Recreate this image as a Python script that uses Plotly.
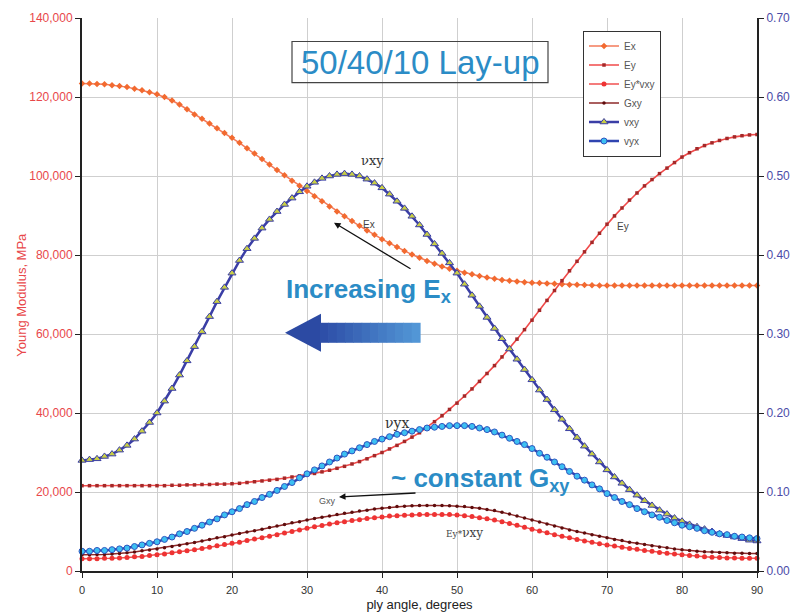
import plotly.graph_objects as go

# ---------------- data ----------------
angle = list(range(0, 91))

Ex = [123400, 123400, 123300, 123200, 123000, 122800, 122500, 122100, 121700, 121200,
      120700, 120000, 119100, 118100, 116900, 115600, 114500, 113300, 112100, 110900,
      109700, 108400, 107000, 105700, 104300, 102900, 101500, 100200, 98800, 97500,
      96200, 94900, 93600, 92300, 91000, 89800, 88600, 87400, 86200, 85100,
      84000, 83000, 82000, 81000, 80100, 79300, 78500, 77800, 77100, 76500,
      76000, 75500, 75100, 74700, 74300, 74000, 73700, 73500, 73300, 73100,
      73000, 72900, 72800, 72700, 72600, 72500, 72450, 72400, 72350, 72300,
      72300, 72300, 72300, 72300, 72300, 72250, 72250, 72250, 72250, 72250,
      72250, 72250, 72250, 72250, 72250, 72250, 72250, 72250, 72250, 72250,
      72250]

Ey = [21600, 21600, 21600, 21600, 21600, 21600, 21600, 21600, 21600, 21600,
      21600, 21600, 21700, 21700, 21800, 21800, 21900, 21900, 22000, 22000,
      22100, 22200, 22400, 22600, 22800, 23000, 23200, 23500, 23800, 24100,
      24400, 24700, 25100, 25500, 26000, 26500, 27100, 27700, 28400, 29200,
      30000, 30900, 31800, 32800, 33900, 35000, 36400, 37800, 39300, 40900,
      42500, 44300, 46100, 48000, 50000, 52000, 54200, 56400, 58700, 61100,
      63500, 66000, 68500, 71000, 73500, 76000, 78400, 80800, 83200, 85500,
      87800, 89900, 91900, 93900, 95700, 97500, 99100, 100600, 102000, 103400,
      104800, 105900, 106900, 107700, 108400, 109000, 109500, 109900, 110200, 110400,
      110500]

Ey_vxy = [3100, 3100, 3100, 3200, 3200, 3300, 3400, 3600, 3700, 3900,
          4100, 4300, 4600, 4900, 5100, 5400, 5700, 6000, 6400, 6700,
          7000, 7300, 7700, 8100, 8400, 8800, 9200, 9600, 10000, 10400,
          10800, 11200, 11500, 11900, 12200, 12500, 12800, 13000, 13300, 13500,
          13700, 13900, 14000, 14100, 14200, 14300, 14300, 14300, 14300, 14300,
          14200, 14000, 13800, 13500, 13200, 12900, 12500, 12000, 11600, 11100,
          10600, 10100, 9700, 9200, 8800, 8400, 8000, 7600, 7300, 6900,
          6600, 6300, 6000, 5700, 5500, 5200, 5000, 4700, 4500, 4300,
          4100, 3900, 3800, 3600, 3500, 3400, 3300, 3300, 3200, 3200,
          3200]

Gxy = [4100, 4100, 4200, 4200, 4300, 4400, 4600, 4800, 5100, 5300,
       5600, 5900, 6200, 6500, 6900, 7200, 7600, 8000, 8400, 8700,
       9100, 9500, 9900, 10200, 10600, 11000, 11400, 11800, 12200, 12500,
       12900, 13300, 13600, 13900, 14300, 14600, 14900, 15200, 15400, 15700,
       15900, 16100, 16300, 16400, 16500, 16600, 16600, 16600, 16600, 16500,
       16400, 16300, 16100, 15900, 15600, 15300, 14900, 14400, 13900, 13400,
       12900, 12400, 11900, 11400, 10900, 10400, 10000, 9600, 9200, 8800,
       8400, 8000, 7700, 7300, 7000, 6700, 6400, 6100, 5900, 5600,
       5400, 5200, 5000, 4900, 4800, 4700, 4600, 4500, 4500, 4400,
       4400]

vxy = [0.140, 0.141, 0.142, 0.145, 0.148, 0.153, 0.159, 0.167, 0.177, 0.188,
       0.200, 0.215, 0.231, 0.248, 0.266, 0.284, 0.303, 0.322, 0.341, 0.359,
       0.377, 0.393, 0.408, 0.421, 0.434, 0.445, 0.455, 0.464, 0.472, 0.480,
       0.487, 0.492, 0.497, 0.500, 0.502, 0.503, 0.502, 0.500, 0.496, 0.491,
       0.485, 0.477, 0.468, 0.459, 0.449, 0.438, 0.426, 0.414, 0.402, 0.390,
       0.377, 0.363, 0.349, 0.335, 0.321, 0.307, 0.294, 0.281, 0.268, 0.255,
       0.242, 0.229, 0.217, 0.204, 0.192, 0.180, 0.169, 0.158, 0.148, 0.138,
       0.128, 0.119, 0.111, 0.103, 0.096, 0.089, 0.083, 0.077, 0.072, 0.067,
       0.063, 0.059, 0.056, 0.053, 0.050, 0.047, 0.045, 0.043, 0.041, 0.039,
       0.038]

vyx = [0.025, 0.025, 0.026, 0.026, 0.027, 0.028, 0.029, 0.031, 0.033, 0.035,
       0.037, 0.040, 0.043, 0.047, 0.050, 0.054, 0.058, 0.062, 0.066, 0.071,
       0.075, 0.079, 0.084, 0.088, 0.093, 0.097, 0.102, 0.107, 0.112, 0.118,
       0.123, 0.128, 0.133, 0.138, 0.143, 0.148, 0.152, 0.156, 0.160, 0.164,
       0.167, 0.170, 0.173, 0.175, 0.177, 0.179, 0.181, 0.182, 0.183, 0.184,
       0.184, 0.184, 0.183, 0.181, 0.179, 0.176, 0.172, 0.168, 0.164, 0.160,
       0.155, 0.149, 0.144, 0.138, 0.132, 0.126, 0.120, 0.115, 0.109, 0.104,
       0.098, 0.093, 0.088, 0.084, 0.079, 0.075, 0.071, 0.068, 0.064, 0.061,
       0.058, 0.056, 0.054, 0.051, 0.049, 0.047, 0.046, 0.044, 0.043, 0.042,
       0.041]

left_ticks = [0, 20000, 40000, 60000, 80000, 100000, 120000, 140000]
right_ticks = [0.0, 0.1, 0.2, 0.3, 0.4, 0.5, 0.6, 0.7]
x_ticks = [0, 10, 20, 30, 40, 50, 60, 70, 80, 90]

# ---------------- layout helpers ----------------
# the page body has an 8px margin, so the figure is drawn 8px in from the corner
OFF = 8
W, H = 801 - OFF, 612 - OFF
PX0, PX1, PY0, PY1 = 82, 757, 18.5, 571          # plot area in page pixels
L, T = PX0 - OFF, int(PY0 - OFF)
R, B = W - (PX1 - OFF), H - (PY1 - OFF)
PW, PH = PX1 - PX0, PY1 - PY0


def px(x):
    return (x - PX0) / PW


def py(y):
    return (PY1 - y) / PH


FONT = "Liberation Sans, Arial, sans-serif"
RED = "#e8474a"
BLUE_AX = "#4b4ba8"
TXT_BLUE = "#2b8cc6"

fig = go.Figure()

fig.add_trace(go.Scatter(
    x=angle, y=Ex, name="Ex", mode="lines+markers", cliponaxis=False,
    line=dict(color="#f37a5a", width=1.5),
    marker=dict(symbol="diamond", size=5, color="#f26a30")))
fig.add_trace(go.Scatter(
    x=angle, y=Ey, name="Ey", mode="lines+markers", cliponaxis=False,
    line=dict(color="#f04a4a", width=1.6),
    marker=dict(symbol="square", size=3.5, color="#a52828")))
fig.add_trace(go.Scatter(
    x=angle, y=Ey_vxy, name="Ey*vxy", mode="lines+markers", cliponaxis=False,
    line=dict(color="#f05050", width=1.5),
    marker=dict(symbol="circle", size=5, color="#ee3333")))
fig.add_trace(go.Scatter(
    x=angle, y=Gxy, name="Gxy", mode="lines+markers", cliponaxis=False,
    line=dict(color="#8e2a2a", width=1.5),
    marker=dict(symbol="circle", size=3.5, color="#5e0c0c")))
fig.add_trace(go.Scatter(
    x=angle, y=vxy, name="vxy", mode="lines+markers", yaxis="y2", cliponaxis=False,
    line=dict(color="#3a3ea6", width=2.5),
    marker=dict(symbol="triangle-up", size=7, color="#c9cf45",
                line=dict(color="#3a3ea6", width=1))))
fig.add_trace(go.Scatter(
    x=angle, y=vyx, name="vyx", mode="lines+markers", yaxis="y2", cliponaxis=False,
    line=dict(color="#2f44b0", width=2.5),
    marker=dict(symbol="circle", size=6, color="#3cc0f2",
                line=dict(color="#2f55c0", width=1))))

shapes = []
# title box (transparent, gridlines show through)
shapes.append(dict(type="rect", xref="paper", yref="paper",
                   x0=px(292), x1=px(548), y0=py(83), y1=py(42),
                   line=dict(color="#444444", width=1.2), fillcolor="rgba(0,0,0,0)"))
# big arrow pointing left (head + gradient body)
head = "M {},{} L {},{} L {},{} Z".format(px(285), py(333), px(321), py(314), px(321), py(352))
shapes.append(dict(type="path", xref="paper", yref="paper", path=head,
                   fillcolor="#2c4aa3", line=dict(width=0)))
c0 = (0x2e, 0x4f, 0xa8)
c1 = (0x52, 0x96, 0xd6)
n = 12
for i in range(n):
    t = i / (n - 1)
    col = "rgb({},{},{})".format(*[int(a + (b - a) * t) for a, b in zip(c0, c1)])
    xa = 320 + i * (100 / n)
    xb = 320 + (i + 1) * (100 / n) + 0.6
    shapes.append(dict(type="rect", xref="paper", yref="paper",
                       x0=px(xa), x1=px(xb), y0=py(343), y1=py(323),
                       fillcolor=col, line=dict(width=0)))

annotations = []


def label(x, y, text, font, xanchor="center", yanchor="middle", **kw):
    annotations.append(dict(xref="paper", yref="paper", x=px(x), y=py(y), text=text,
                            showarrow=False, xanchor=xanchor, yanchor=yanchor,
                            font=font, **kw))


label(420, 63, "50/40/10 Lay-up", dict(family=FONT, size=33, color=TXT_BLUE))
label(284, 291, "<b>Increasing E<sub>x</sub></b>", dict(family=FONT, size=26, color=TXT_BLUE),
      xanchor="left")
label(389, 480, "<b>~ constant G<sub>xy</sub></b>", dict(family=FONT, size=26, color=TXT_BLUE),
      xanchor="left")
# Ex arrow
annotations.append(dict(xref="paper", yref="paper", x=px(334), y=py(223),
                        ax=78, ay=47, text="", showarrow=True,
                        arrowhead=2, arrowsize=1, arrowwidth=1.3, arrowcolor="#111111"))
# Gxy arrow
annotations.append(dict(xref="paper", yref="paper", x=px(339), y=py(497),
                        ax=78, ay=-4, text="", showarrow=True,
                        arrowhead=2, arrowsize=1, arrowwidth=1.3, arrowcolor="#111111"))
small = dict(family=FONT, size=10, color="#444444")
label(369, 225, "Ex", small)
label(623, 227, "Ey", small)
label(327, 501, "Gxy", dict(family=FONT, size=9, color="#555555"))
label(372, 161, "νxy", dict(family="DejaVu Serif, Liberation Serif, serif", size=13, color="#333333"))
label(397, 423, "νyx", dict(family="DejaVu Serif, Liberation Serif, serif", size=14, color="#333333"))
label(465, 533, "<span style='font-size:9px'>Ey*</span>νxy",
      dict(family="DejaVu Serif, Liberation Serif, serif", size=12, color="#444444"))
# axis titles
label(22, 295, "Young Modulus, MPa", dict(family=FONT, size=13, color=RED), textangle=-90)
label(803, 295, "Poisson's Ratio", dict(family=FONT, size=13, color=BLUE_AX), textangle=-90)

fig.update_layout(
    width=W, height=H,
    margin=dict(l=L, r=R, t=T, b=B, autoexpand=False),
    paper_bgcolor="white", plot_bgcolor="white",
    font=dict(family=FONT),
    showlegend=True,
    legend=dict(x=px(583), y=py(31), xanchor="left", yanchor="top",
                bgcolor="white", bordercolor="#333333", borderwidth=1,
                font=dict(family=FONT, size=10, color="#555555"),
                itemwidth=30, tracegroupgap=0),
    xaxis=dict(range=[0, 90], tickvals=x_ticks, showgrid=True, gridcolor="#cfcfcf",
               gridwidth=1, zeroline=False, showline=True, linecolor="#222222",
               linewidth=2, ticks="outside", ticklen=5, tickcolor="#222222",
               ticklabelstandoff=3,
               tickfont=dict(family=FONT, size=11, color="#333333"),
               title=dict(text="ply angle, degrees", standoff=8,
                          font=dict(family=FONT, size=13, color="#222222"))),
    yaxis=dict(range=[0, 140000], tickvals=left_ticks, tickformat=",",
               showgrid=True, gridcolor="#cfcfcf", gridwidth=1, zeroline=False,
               showline=True, linecolor="#222222", linewidth=2,
               ticks="outside", ticklen=5, tickcolor="#222222",
               tickfont=dict(family=FONT, size=12, color=RED)),
    yaxis2=dict(range=[0, 0.7], tickvals=right_ticks, tickformat=".2f",
                overlaying="y", side="right", showgrid=False, zeroline=False,
                showline=True, linecolor="#222222", linewidth=2,
                ticks="outside", ticklen=5, tickcolor="#222222",
                tickfont=dict(family=FONT, size=12, color=BLUE_AX)),
    shapes=shapes,
    annotations=annotations,
)

fig.write_html("out.html")
